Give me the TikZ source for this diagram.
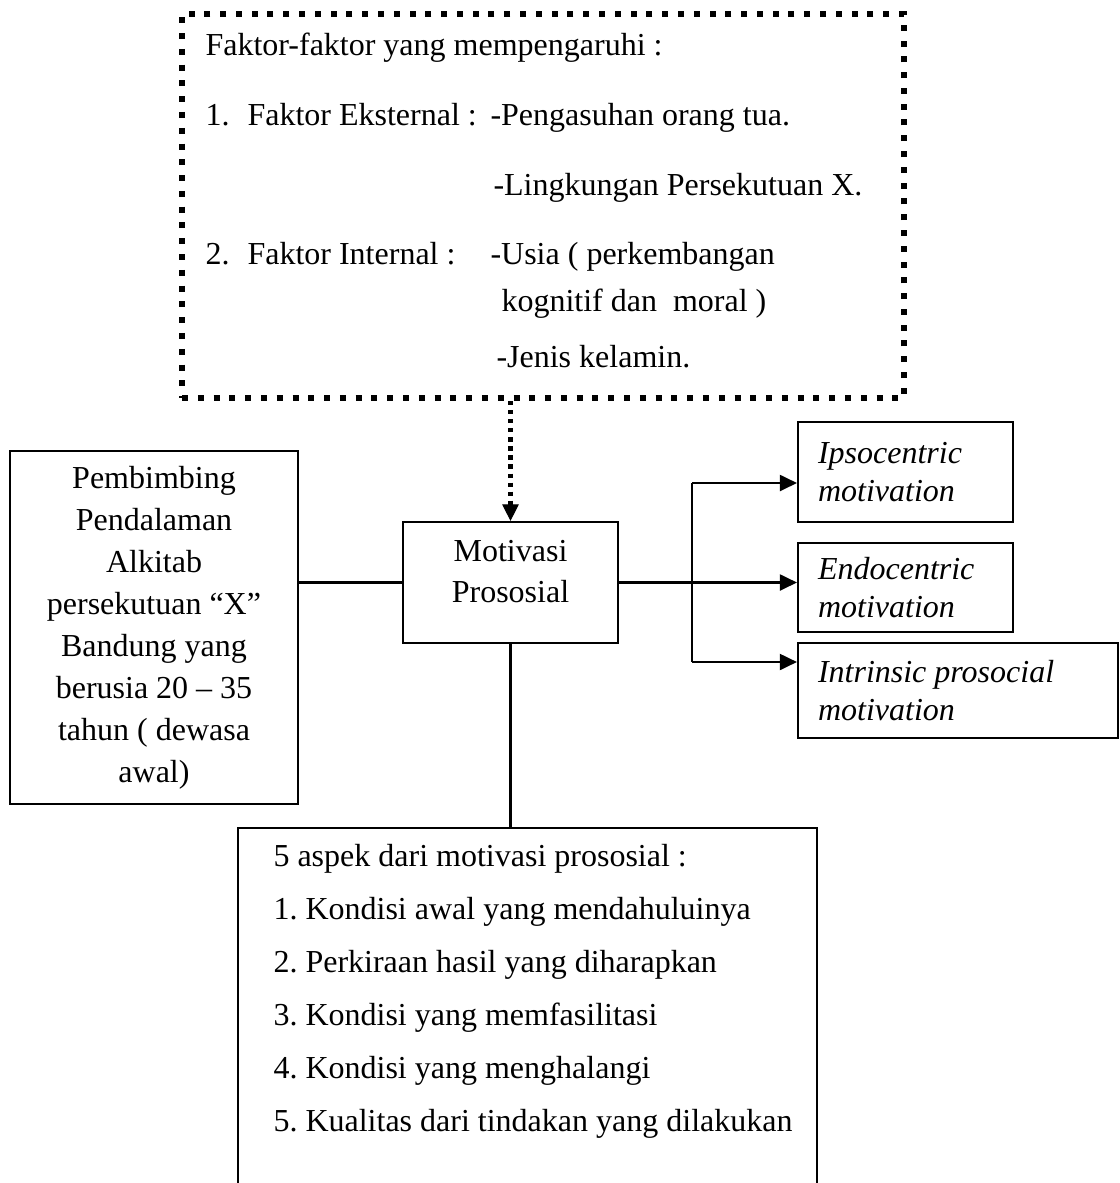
\documentclass[tikz,border=0pt]{standalone}
\usepackage{fontspec}
\setmainfont{Liberation Serif}
\usetikzlibrary{arrows.meta}
\frenchspacing

\tikzset{
  box/.style={draw,line width=0.8pt,inner sep=0pt,font=\fontsize{12}{15.75}\selectfont},
  dotbox/.style={draw,line width=2.25pt,dash pattern=on 2.25pt off 3.67pt,inner sep=0pt},
  txt/.style={anchor=base west,inner sep=0pt,font=\fontsize{12}{14}\selectfont},
  conn/.style={line width=0.8pt},
  arr/.style={line width=0.8pt,-{Triangle[length=6.4pt,width=6pt]}},
  dotarr/.style={line width=1.6pt,dash pattern=on 1.6pt off 1.8pt,
    -{Triangle[length=6.2pt,width=6.2pt,line width=0.4pt]}}
}

\begin{document}
\begin{tikzpicture}[x=0.375pt,y=-0.375pt]
\clip (0,0) rectangle (1120,1183);

% faktor yang mempengaruhi
\node[dotbox,minimum width=270.75pt,minimum height=144pt] (faktor) at (543,206) {};
\node[txt] (judul) at (205,55) {Faktor-faktor yang mempengaruhi :};
\node[txt] (no1) at (205,125) {1.};
\node[txt] (eks) at (247,125) {Faktor Eksternal :};
\node[txt] (asuh) at (490,125) {-Pengasuhan orang tua.};
\node[txt] (ling) at (493,195) {-Lingkungan Persekutuan X.};
\node[txt] (no2) at (205,264) {2.};
\node[txt] (int) at (247,264) {Faktor Internal :};
\node[txt] (usia) at (490,264) {-Usia ( perkembangan};
\node[txt] (kog) at (501,311) {kognitif dan\ \ moral )};
\node[txt] (jenis) at (496,367) {-Jenis kelamin.};

% kotak tengah
\node[box,minimum width=108pt,minimum height=132.4pt,text width=100pt,align=flush center]
  (pemb) at (154,627.5) {Pembimbing\\ Pendalaman\\ Alkitab\\ persekutuan “X”\\ Bandung yang\\ berusia 20 -- 35\\ tahun ( dewasa\\ awal)};
\node[box,minimum width=80.6pt,minimum height=45.4pt,align=flush center,
  font=\fontsize{12}{15.4}\selectfont] (motiv) at (510.5,582.5) {Motivasi\\ Prososial\\[-7pt]};

% jenis motivasi
\node[box,minimum width=80.6pt,minimum height=37.5pt,text width=65.6pt,align=flush left,
  font=\fontsize{12}{14.25}\selectfont\itshape] (ipso) at (905.5,472) {Ipsocentric\\ motivation};
\node[box,minimum width=80.6pt,minimum height=33.4pt,text width=65.6pt,align=flush left,
  font=\fontsize{12}{14.25}\selectfont\itshape] (endo) at (905.5,587.5) {Endocentric\\ motivation};
\node[box,minimum width=120pt,minimum height=35.6pt,text width=105pt,align=flush left,
  font=\fontsize{12}{14.25}\selectfont\itshape] (intr) at (958,690.5) {Intrinsic prosocial\\ motivation};

% aspek
\node[box,minimum width=217.1pt,minimum height=143.25pt] (aspek) at (527.5,1019) {};
\node[txt] (asp0) at (273,866) {5 aspek dari motivasi prososial :};
\node[txt] (asp1) at (273,919) {1. Kondisi awal yang mendahuluinya};
\node[txt] (asp2) at (273,972) {2. Perkiraan hasil yang diharapkan};
\node[txt] (asp3) at (273,1025) {3. Kondisi yang memfasilitasi};
\node[txt] (asp4) at (273,1078) {4. Kondisi yang menghalangi};
\node[txt] (asp5) at (273,1131) {5. Kualitas dari tindakan yang dilakukan};

% garis
\coordinate (cabA) at (692,483);
\coordinate (cabC) at (692,662);
\draw[dotarr] (faktor.south -| motiv.north) -- (motiv.north);
\draw[conn] (pemb.east |- motiv.west) -- (motiv.west);
\draw[conn] (motiv.south) -- (motiv.south |- aspek.north);
\draw[conn] (cabA) -- (cabC);
\draw[arr] (cabA) -- (cabA -| ipso.west);
\draw[arr] (motiv.east) -- (motiv.east -| endo.west);
\draw[arr] (cabC) -- (cabC -| intr.west);
\end{tikzpicture}
\end{document}
